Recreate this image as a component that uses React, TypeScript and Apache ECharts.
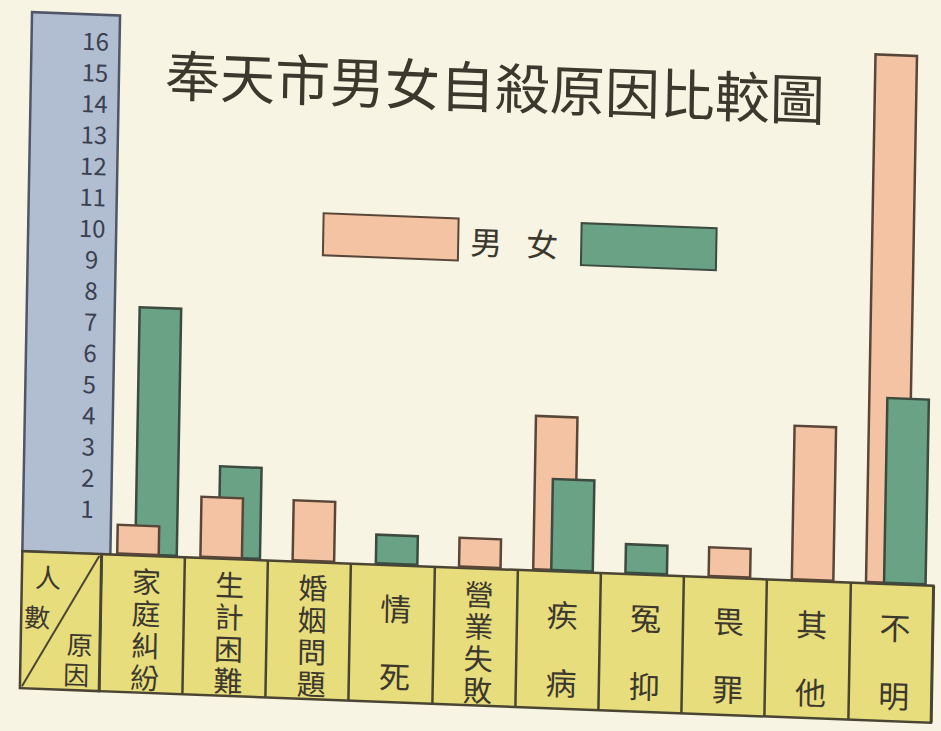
import React, { useEffect, useRef } from "react";
import * as echarts from "echarts";

// ---- data ----
const categories = ["家庭糾紛", "生計困難", "婚姻問題", "情死", "營業失敗", "疾病", "冤抑", "畏罪", "其他", "不明"];
const maleValues = [1, 2, 2, 0, 1, 5, 0, 1, 5, 17];
const femaleValues = [8, 3, 0, 1, 0, 3, 1, 0, 0, 6];
const yTickLabels = ["1", "2", "3", "4", "5", "6", "7", "8", "9", "10", "11", "12", "13", "14", "15", "16"];
const titleText = "奉天市男女自殺原因比較圖";
const maleName = "男";
const femaleName = "女";
const cornerPeople = ["人", "數"];
const cornerCause = ["原", "因"];

// ---- styles ----
const PAPER = "#f7f4e3";
const PINK = "#f3c3a3";
const PINK_EDGE = "#5a4638";
const GREEN = "#69a285";
const GREEN_EDGE = "#3c4a3f";
const YELLOW = "#e7dd7d";
const INK = "#3c382d";
const EDGE = "#4a4533";
const COLUMN = "#b1bdd1";
const COLUMN_EDGE = "#4e5667";
const FONT = "'Noto Sans CJK TC', 'Noto Sans CJK SC', sans-serif";

export default function App() {
  const ref = useRef<HTMLDivElement>(null);

  useEffect(() => {
    if (!ref.current) return;
    const chart = echarts.init(ref.current, undefined, { renderer: "svg" });

    const both = (i: number) => maleValues[i] > 0 && femaleValues[i] > 0;
    // in paired categories the shorter bar is drawn in front of the taller one
    const maleFront = maleValues.map((v, i) => (both(i) && v < femaleValues[i] ? v : null));
    const maleBack = maleValues.map((v, i) => (both(i) && v >= femaleValues[i] ? v : null));
    const femaleFront = femaleValues.map((v, i) => (both(i) && v < maleValues[i] ? v : null));
    const femaleBack = femaleValues.map((v, i) => (both(i) && v >= maleValues[i] ? v : null));
    const maleSingle = maleValues.map((v, i) => (!both(i) && v > 0 ? v : null));
    const femaleSingle = femaleValues.map((v, i) => (!both(i) && v > 0 ? v : null));
    const yMax = Number(yTickLabels[yTickLabels.length - 1]) + 1;

    const maleStyle = { color: PINK, borderColor: PINK_EDGE, borderWidth: 2.5 };
    const femaleStyle = { color: GREEN, borderColor: GREEN_EDGE, borderWidth: 2.5 };
    const pairBar = { type: "bar", xAxisIndex: 0, yAxisIndex: 0, barWidth: 44, barGap: "-59%" };

    const cornerText = (t: string, x: number, y: number) => ({
      type: "text",
      x,
      y,
      z: 20,
      style: {
        text: t,
        fill: INK,
        font: `26px ${FONT}`,
        align: "center",
        verticalAlign: "middle",
        textAlign: "center",
        textVerticalAlign: "middle",
      },
    });

    chart.setOption({
      animation: false,
      backgroundColor: "transparent",
      title: {
        text: titleText,
        left: 160,
        top: 56,
        padding: 0,
        textStyle: { fontSize: 55, fontWeight: "normal", color: INK, fontFamily: FONT },
      },
      legend: [
        {
          data: [maleName],
          left: 315,
          top: 213,
          itemWidth: 135,
          itemHeight: 42,
          icon: "rect",
          selectedMode: false,
          textStyle: { fontSize: 32, color: INK, fontFamily: FONT, padding: [0, 0, 0, 7] },
        },
        {
          data: [femaleName],
          left: 519,
          top: 213,
          align: "right",
          itemWidth: 135,
          itemHeight: 42,
          icon: "rect",
          selectedMode: false,
          textStyle: { fontSize: 32, color: INK, fontFamily: FONT, padding: [0, 18, 0, 0] },
        },
      ],
      grid: [
        { left: 109, right: 0, top: 38, height: 530 },
        {
          left: 105,
          right: 4,
          top: 568,
          height: 137,
          show: true,
          backgroundColor: YELLOW,
          borderColor: EDGE,
          borderWidth: 2.5,
        },
      ],
      xAxis: [
        {
          type: "category",
          gridIndex: 0,
          data: categories,
          axisLine: { show: false },
          axisTick: { show: false },
          z: 10,
          axisLabel: {
            interval: 0,
            margin: 8,
            color: INK,
            formatter: (v: string) => {
              const ch = Array.from(v);
              const key = ch.length >= 4 ? "a" : "b";
              return ch.map((c) => `{${key}|${c}}`).join("\n");
            },
            rich: {
              a: { fontSize: 29, lineHeight: 32, color: INK, fontFamily: FONT },
              b: { fontSize: 31, lineHeight: 68, color: INK, fontFamily: FONT },
            },
          },
        },
        {
          type: "category",
          gridIndex: 0,
          data: categories,
          show: false,
        },
        {
          type: "category",
          gridIndex: 1,
          data: categories,
          axisLine: { show: false },
          axisTick: { show: false },
          axisLabel: { show: false },
          splitLine: { show: true, interval: 0, lineStyle: { color: EDGE, width: 2.5 } },
        },
      ],
      yAxis: [
        {
          type: "value",
          gridIndex: 0,
          min: 0,
          max: yMax,
          interval: 1,
          z: 10,
          axisLine: { show: false },
          axisTick: { show: false },
          splitLine: { show: false },
          axisLabel: {
            margin: 19,
            align: "center",
            verticalAlign: "bottom",
            lineHeight: 30,
            fontSize: 24,
            color: "#3a4050",
            fontFamily: FONT,
            formatter: (v: number) => (yTickLabels.includes(String(v)) ? String(v) : ""),
          },
        },
        { type: "value", gridIndex: 1, show: false, min: 0, max: 1 },
      ],
      series: [
        { ...pairBar, name: maleName, stack: "m", z: 2, data: maleBack, itemStyle: maleStyle },
        { ...pairBar, name: maleName, stack: "m", z: 3, data: maleFront, itemStyle: maleStyle },
        { ...pairBar, name: femaleName, stack: "f", z: 2, data: femaleBack, itemStyle: femaleStyle },
        { ...pairBar, name: femaleName, stack: "f", z: 3, data: femaleFront, itemStyle: femaleStyle },
        {
          name: maleName,
          type: "bar",
          xAxisIndex: 1,
          yAxisIndex: 0,
          stack: "single",
          data: maleSingle,
          barWidth: 44,
          itemStyle: maleStyle,
        },
        {
          name: femaleName,
          type: "bar",
          xAxisIndex: 1,
          yAxisIndex: 0,
          stack: "single",
          data: femaleSingle,
          barWidth: 44,
          itemStyle: femaleStyle,
        },
      ],
      graphic: [
        {
          type: "rect",
          z: -1,
          shape: { x: 26, y: 29, width: 88, height: 539 },
          style: { fill: COLUMN, stroke: COLUMN_EDGE, lineWidth: 2.5 },
        },
        {
          type: "rect",
          z: 5,
          shape: { x: 26, y: 568, width: 79, height: 137 },
          style: { fill: YELLOW, stroke: EDGE, lineWidth: 2.5 },
        },
        {
          type: "line",
          z: 6,
          shape: { x1: 103, y1: 570, x2: 28, y2: 703 },
          style: { stroke: EDGE, lineWidth: 2 },
        },
        cornerText(cornerPeople[0], 52, 592),
        cornerText(cornerPeople[1], 42, 632),
        cornerText(cornerCause[0], 85, 658),
        cornerText(cornerCause[1], 82, 688),
      ],
    });

    return () => chart.dispose();
  }, []);

  return (
    <div
      style={{
        position: "fixed",
        left: 0,
        top: 0,
        width: 941,
        height: 731,
        overflow: "hidden",
        background: PAPER,
      }}
    >
      <div
        ref={ref}
        style={{
          width: 941,
          height: 731,
          background: PAPER,
          transform: "matrix(1, 0.038, -0.018, 1, 0, 0)",
          transformOrigin: "470.5px 365.5px",
        }}
      />
    </div>
  );
}
